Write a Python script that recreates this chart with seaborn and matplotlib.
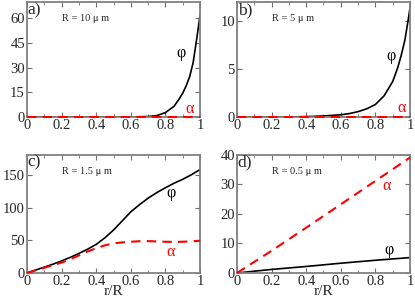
import numpy as np
import pandas as pd
import seaborn as sns
import matplotlib
matplotlib.use("Agg")
import matplotlib.pyplot as plt
from matplotlib.ticker import MultipleLocator

# panel a) R = 10 um
r_a_phi = [0, 0.5, 0.6, 0.65, 0.7, 0.75, 0.8, 0.85, 0.88, 0.9, 0.92, 0.94, 0.96, 0.98, 1.0]
phi_a = [0, 0, 0.03, 0.08, 0.25, 0.8, 2.6, 6.5, 11, 14.5, 19, 24.5, 33, 47, 62]
r_a_alpha = [0, 1.0]
alpha_a = [0, 0]

# panel b) R = 5 um
r_b_phi = [0, 0.3, 0.4, 0.5, 0.6, 0.65, 0.7, 0.75, 0.8, 0.85, 0.9, 0.93, 0.95, 0.97, 0.99, 1.0]
phi_b = [0, 0, 0.03, 0.1, 0.22, 0.35, 0.55, 0.85, 1.3, 2.2, 3.7, 5.2, 6.5, 8.0, 10.2, 11.4]
r_b_alpha = [0, 1.0]
alpha_b = [0, 0]

# panel c) R = 1.5 um
r_c = [0, 0.05, 0.1, 0.15, 0.2, 0.25, 0.3, 0.35, 0.4, 0.45, 0.5,
       0.55, 0.6, 0.65, 0.7, 0.75, 0.8, 0.85, 0.9, 0.95, 1.0]
phi_c = [0, 4.5, 9, 13.5, 18.6, 24, 30, 36.5, 44, 54, 66,
         80, 94, 105, 115, 123.5, 131, 138, 144, 151, 159]
alpha_c = [0, 4, 8, 12, 16, 21, 27, 33, 38, 42.5, 45.5,
           47, 48, 48.8, 49, 48.5, 48, 47.8, 48, 48.7, 49.5]

# panel d) R = 0.5 um
r_d = [0, 0.2, 0.4, 0.6, 0.8, 1.0]
phi_d = [0, 1.2, 2.2, 3.3, 4.3, 5.2]
alpha_d = [0, 7.5, 15.3, 23.2, 31.1, 39]

panels = [
    dict(tag="a)", rad="R = 10 μ m", r_phi=r_a_phi, phi=phi_a, r_al=r_a_alpha, al=alpha_a,
         ymax=70, ystep=15, phi_xy=(0.89, 39), al_xy=(0.94, 5), xlabel=False),
    dict(tag="b)", rad="R = 5 μ m", r_phi=r_b_phi, phi=phi_b, r_al=r_b_alpha, al=alpha_b,
         ymax=12, ystep=5, phi_xy=(0.89, 6.4), al_xy=(0.95, 0.9), xlabel=False),
    dict(tag="c)", rad="R = 1.5 μ m", r_phi=r_c, phi=phi_c, r_al=r_c, al=alpha_c,
         ymax=182, ystep=50, phi_xy=(0.83, 123), al_xy=(0.83, 32), xlabel=True),
    dict(tag="d)", rad="R = 0.5 μ m", r_phi=r_d, phi=phi_d, r_al=r_d, al=alpha_d,
         ymax=40, ystep=10, phi_xy=(0.88, 7.9), al_xy=(0.865, 29.4), xlabel=True),
]

sns.set_style("ticks")
plt.rcParams["font.family"] = ["Liberation Serif", "DejaVu Serif"]

fig = plt.figure(figsize=(4.15, 2.99), dpi=100)
boxes = [
    [0.065, 0.609, 0.417, 0.384],
    [0.571, 0.609, 0.417, 0.384],
    [0.065, 0.087, 0.417, 0.396],
    [0.571, 0.087, 0.417, 0.396],
]


def fmt_x(v, _):
    return f"{round(v, 1):g}"


for p, box in zip(panels, boxes):
    ax = fig.add_axes(box)
    sns.lineplot(x=p["r_phi"], y=p["phi"], ax=ax, color="black", linewidth=1.2,
                 estimator=None, sort=False)
    sns.lineplot(x=p["r_al"], y=p["al"], ax=ax, color="#ff0000", linewidth=1.5,
                 estimator=None, sort=False, clip_on=False, zorder=3)
    ax.lines[-1].set_linestyle((0, (4.5, 3)))
    ax.set_xlim(0, 1)
    ax.set_ylim(0, p["ymax"])
    ax.xaxis.set_major_locator(MultipleLocator(0.2))
    ax.xaxis.set_minor_locator(MultipleLocator(0.1))
    ax.yaxis.set_major_locator(MultipleLocator(p["ystep"]))
    ax.xaxis.set_major_formatter(plt.FuncFormatter(fmt_x))
    ax.tick_params(which="both", direction="in", top=True, right=True,
                   color="#707070", labelsize=10.5, pad=1.5)
    ax.tick_params(which="major", length=3.5)
    ax.tick_params(which="minor", length=2)
    for s in ax.spines.values():
        s.set_color("#808080")
        s.set_linewidth(1.3)
    ax.text(0.005, 1.0, p["tag"], transform=ax.transAxes, ha="left", va="top", fontsize=12.5)
    ax.text(0.2, 0.86, p["rad"], transform=ax.transAxes, ha="left", va="center", fontsize=7.5)
    ax.text(*p["phi_xy"], "φ", ha="center", va="center", fontsize=11.5, color="black")
    ax.text(*p["al_xy"], "α", ha="center", va="center", fontsize=11.5, color="#ff0000")
    if p["xlabel"]:
        ax.set_xlabel("r/R", fontsize=11, labelpad=-2)

fig.savefig("out.png", dpi=100)
